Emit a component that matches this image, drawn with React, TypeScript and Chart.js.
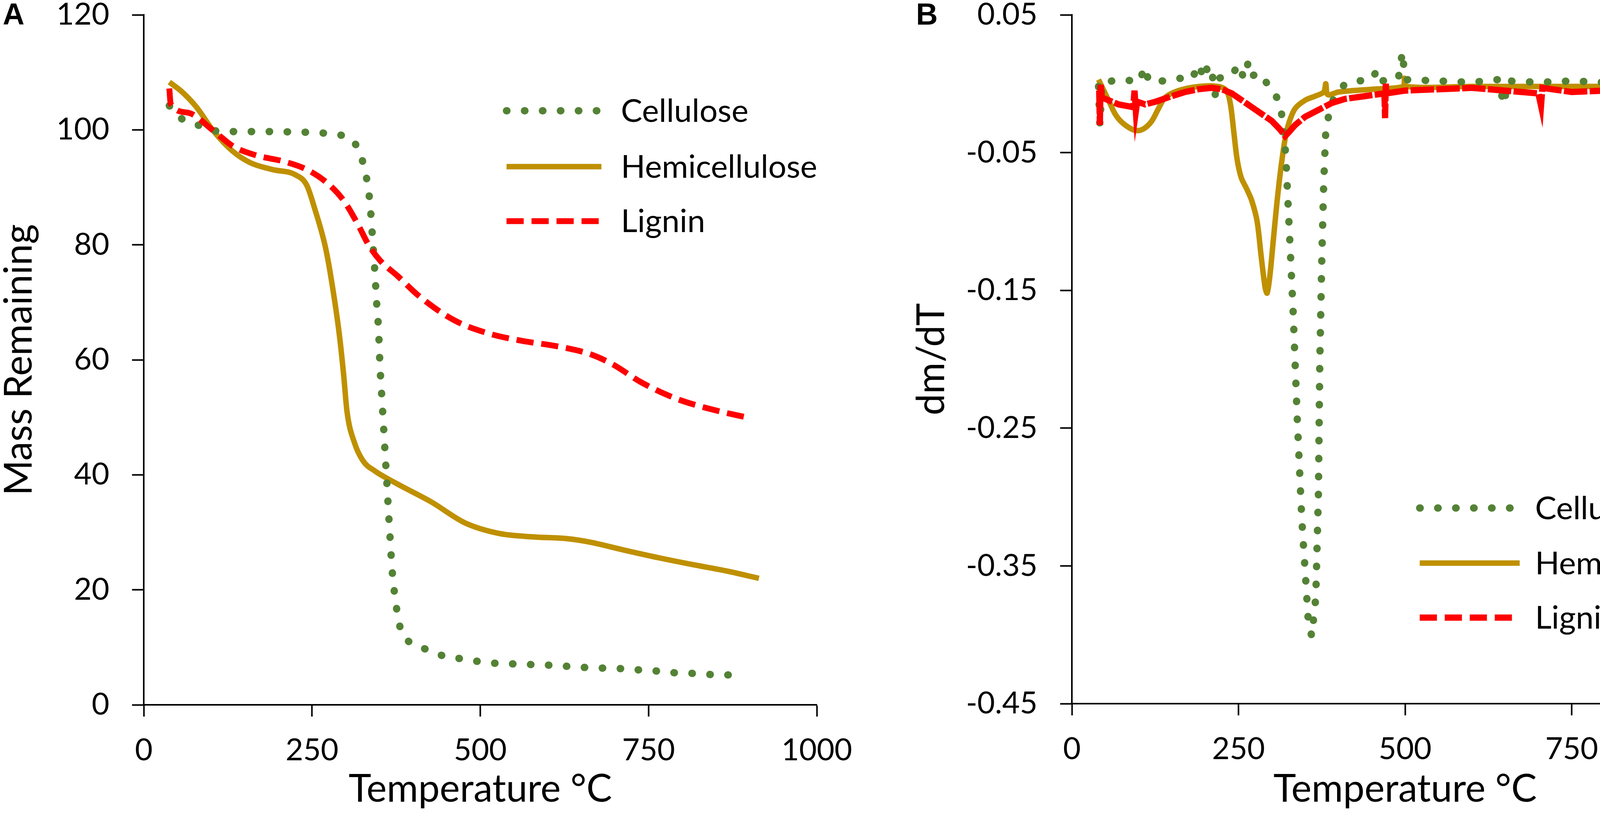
import { useEffect, useRef } from "react";
import { Chart, registerables } from "chart.js";

Chart.register(...registerables);

const FONT = "Lato, 'Open Sans', sans-serif";

// shared axis ticks
const tempTicks = [0, 250, 500, 750, 1000];
const massTicks = [0, 20, 40, 60, 80, 100, 120];
const rateTicks = [0.05, -0.05, -0.15, -0.25, -0.35, -0.45];

// panel A - mass remaining (%)
const celluloseMassT = [38, 53, 77, 103, 128, 180, 233, 259, 284, 309, 322, 329, 334, 337, 340, 343, 346, 349, 351, 354, 357, 360, 363, 366, 369, 372, 376, 382, 398, 424, 448, 473, 500, 526, 552, 577, 602, 629, 655, 680, 708, 733, 760, 785, 810, 837, 863, 888];
const celluloseMass = [104.2, 102.2, 101, 99.9, 99.7, 99.7, 99.6, 99.5, 99.2, 98.3, 95.7, 92.7, 89.5, 86, 81, 76, 70, 65, 59, 53, 47, 41, 35, 29, 23.5, 20, 16.5, 13, 10.7, 9.5, 8.4, 8.0, 7.5, 7.2, 7.1, 7.0, 6.9, 6.7, 6.5, 6.4, 6.3, 6.1, 5.9, 5.6, 5.5, 5.3, 5.2, 5.2];

const hemiMassT = [38, 56, 78, 103, 132, 158, 191, 225, 242, 254, 271, 284, 291, 297, 302, 313, 326, 343, 377, 427, 478, 528, 579, 629, 663, 714, 764, 815, 865, 914];
const hemiMass = [108.3, 106.7, 104, 99.9, 96.3, 94.3, 93.1, 92.2, 90.4, 86.3, 79, 70, 64, 57.4, 51, 45.6, 42.4, 40.7, 38.4, 35.3, 31.6, 29.8, 29.2, 28.9, 28.3, 26.9, 25.6, 24.4, 23.3, 22.0];

const ligninMassT = [38, 40, 65, 103, 132, 166, 208, 242, 271, 297, 318, 334, 351, 377, 410, 461, 512, 562, 612, 663, 697, 739, 790, 840, 899];
const ligninMass = [107.2, 104.5, 103, 99.9, 97.2, 95.6, 94.5, 93.1, 90.9, 87.7, 83.6, 80, 77.3, 74.6, 71, 66.9, 64.6, 63.3, 62.4, 61, 59.2, 56.1, 53.3, 51.5, 49.9];

// panel B - dm/dT
const celluloseRateT = [40, 42, 45, 60, 80, 100, 110, 115, 140, 160, 180, 190, 195, 200, 205, 210, 215, 220, 240, 250, 258, 265, 272, 280, 290, 300, 310, 316, 321, 332, 338, 345, 351, 355, 360, 366, 370, 372, 375, 378, 381, 385, 392, 400, 410, 430, 450, 458, 465, 490, 496, 500, 550, 600, 640, 648, 655, 700, 750, 800, 850, 878, 882, 900, 915];
const celluloseRate = [-0.002, -0.03, 0.0, 0.002, 0.003, 0.001, 0.012, 0.002, 0.002, 0.004, 0.003, 0.014, 0.008, 0.015, 0.006, 0.009, -0.008, 0.004, 0.006, 0.014, 0.004, 0.016, 0.006, 0.008, 0.002, -0.004, -0.012, -0.025, -0.052, -0.165, -0.241, -0.316, -0.361, -0.392, -0.401, -0.373, -0.297, -0.203, -0.128, -0.071, -0.034, -0.024, -0.012, -0.006, 0.0, 0.002, 0.003, 0.01, 0.002, 0.004, 0.023, 0.003, 0.002, 0.001, 0.003, -0.015, 0.002, 0.001, 0.002, 0.001, 0.003, 0.011, -0.008, 0.002, 0.0];

const hemiRateT = [40, 45, 55, 65, 75, 90, 100, 110, 120, 130, 140, 160, 190, 220, 232, 238, 243, 248, 254, 262, 270, 278, 284, 290, 293, 297, 302, 308, 314, 320, 326, 335, 350, 365, 378, 381, 384, 400, 450, 497, 499, 502, 600, 700, 800, 910];
const hemiRate = [0.003, -0.002, -0.012, -0.022, -0.028, -0.033, -0.034, -0.032, -0.027, -0.018, -0.01, -0.005, -0.002, -0.002, -0.005, -0.015, -0.035, -0.055, -0.068, -0.076, -0.085, -0.1, -0.125, -0.148, -0.152, -0.14, -0.115, -0.085, -0.06, -0.04, -0.028, -0.018, -0.012, -0.009, -0.006, 0.0, -0.008, -0.006, -0.004, -0.002, 0.004, -0.002, -0.002, -0.002, -0.002, -0.002];

const ligninRateT = [41, 42, 43, 45, 55, 70, 92, 94, 96, 98, 110, 126, 150, 170, 190, 210, 225, 240, 255, 270, 285, 300, 312, 320, 326, 335, 350, 370, 390, 410, 440, 469, 470, 471, 472, 500, 550, 600, 650, 700, 704, 706, 750, 800, 802, 803, 805, 850, 900, 915];
const ligninRate = [-0.005, -0.03, 0.0, -0.01, -0.012, -0.015, -0.017, -0.005, -0.02, -0.013, -0.015, -0.013, -0.009, -0.006, -0.004, -0.003, -0.004, -0.007, -0.012, -0.017, -0.022, -0.027, -0.033, -0.038, -0.035, -0.03, -0.024, -0.019, -0.014, -0.011, -0.009, -0.007, -0.025, 0.0, -0.007, -0.005, -0.004, -0.003, -0.005, -0.007, -0.016, -0.003, -0.006, -0.005, -0.018, 0.008, -0.005, -0.005, -0.004, -0.003];

const GREEN = "#548235";
const GOLD = "#BF9000";
const RED = "#FF0000";

const W = 2275;
const H = 2086;

const zip = (xs: number[], ys: number[]) => xs.map((x, i) => ({ x, y: ys[i] }));

// legend drawn inside the plot area, positions as fractions of the chart area
const insideLegend = {
  id: "insideLegend",
  afterDatasetsDraw(chart: any, _args: any, opts: any) {
    const { ctx, chartArea: a } = chart;
    const w = a.right - a.left;
    const h = a.bottom - a.top;
    ctx.save();
    chart.data.datasets.forEach((ds: any, i: number) => {
      const y = a.top + opts.rows[i] * h;
      ctx.beginPath();
      ctx.setLineDash(ds.legendDash || ds.borderDash || []);
      ctx.lineCap = ds.borderCapStyle || "butt";
      ctx.lineWidth = ds.borderWidth;
      ctx.strokeStyle = ds.borderColor;
      ctx.moveTo(a.left + opts.x1 * w, y);
      ctx.lineTo(a.left + opts.x2 * w, y);
      ctx.stroke();
      ctx.setLineDash([]);
      ctx.fillStyle = "#000";
      ctx.font = `${opts.size}px ${FONT}`;
      ctx.textBaseline = "middle";
      ctx.textAlign = "left";
      ctx.fillText(ds.label, a.left + opts.tx * w, y + 2);
    });
    ctx.restore();
  },
};

type Area = { left: number; right: number; top: number; bottom: number };

function axisStyle() {
  return {
    grid: { drawOnChartArea: false, drawTicks: true, tickLength: 30, tickWidth: 4, tickColor: "#000" },
    border: { display: true, color: "#000", width: 4 },
  };
}

function makeConfig(opts: {
  datasets: any[];
  yMin: number;
  yMax: number;
  yTicks: number[];
  yTitle: string;
  yFormat: (v: number) => string;
  yTitlePad: number;
  area: Area;
  legend: any;
}): any {
  const { area } = opts;
  return {
    type: "line",
    data: { datasets: opts.datasets },
    plugins: [insideLegend],
    options: {
      responsive: false,
      animation: false,
      devicePixelRatio: 1,
      layout: { padding: { top: area.top, right: W - area.right, bottom: 0, left: 0 } },
      elements: { point: { radius: 0 } },
      scales: {
        x: {
          type: "linear",
          min: 0,
          max: 1000,
          afterBuildTicks: (s: any) => {
            s.ticks = tempTicks.map((v) => ({ value: v }));
          },
          afterFit: (s: any) => {
            s.height = H - area.bottom;
            s.paddingLeft = 0;
            s.paddingRight = 0;
          },
          ticks: {
            color: "#000",
            font: { family: FONT, size: 78, lineHeight: 1 },
            padding: 48,
            maxRotation: 0,
            minRotation: 0,
            autoSkip: false,
            callback: (v: any) => String(v),
          },
          title: {
            display: true,
            text: "Temperature °C",
            color: "#000",
            font: { family: FONT, size: 98, lineHeight: 1 },
            padding: { top: 0, bottom: 17 },
          },
          ...axisStyle(),
        },
        y: {
          type: "linear",
          min: opts.yMin,
          max: opts.yMax,
          afterBuildTicks: (s: any) => {
            s.ticks = opts.yTicks.map((v) => ({ value: v }));
          },
          afterFit: (s: any) => {
            s.width = area.left;
            s.paddingTop = 0;
            s.paddingBottom = 0;
          },
          ticks: {
            color: "#000",
            font: { family: FONT, size: 78, lineHeight: 1 },
            padding: 58,
            callback: (v: any) => opts.yFormat(Number(v)),
          },
          title: {
            display: true,
            text: opts.yTitle,
            color: "#000",
            font: { family: FONT, size: 98, lineHeight: 1 },
            padding: { top: opts.yTitlePad, bottom: 0 },
          },
          ...axisStyle(),
        },
      },
      plugins: {
        legend: { display: false },
        tooltip: { enabled: false },
        insideLegend: opts.legend,
      },
    },
  };
}

function dotted(label: string, data: any[], order: number) {
  return {
    label,
    data,
    borderColor: GREEN,
    borderWidth: 19,
    borderDash: [1, 45],
    borderCapStyle: "round",
    order,
  };
}

const massConfig = () =>
  makeConfig({
    datasets: [
      { ...dotted("Cellulose", zip(celluloseMassT, celluloseMass), 1), cubicInterpolationMode: "monotone" },
      {
        label: "Hemicellulose",
        data: zip(hemiMassT, hemiMass),
        borderColor: GOLD,
        borderWidth: 14,
        cubicInterpolationMode: "monotone",
        order: 2,
      },
      {
        label: "Lignin",
        data: zip(ligninMassT, ligninMass),
        borderColor: RED,
        borderWidth: 15,
        borderDash: [44, 20],
        cubicInterpolationMode: "monotone",
        order: 0,
      },
    ],
    yMin: 0,
    yMax: 120,
    yTicks: massTicks,
    yTitle: "Mass Remaining",
    yFormat: (v) => String(v),
    yTitlePad: 0,
    area: { left: 368, right: 2091, top: 38, bottom: 1804 },
    legend: { x1: 0.539, x2: 0.68, tx: 0.709, rows: [0.139, 0.22, 0.299], size: 82 },
  });

const rateConfig = () =>
  makeConfig({
    datasets: [
      dotted("Cellulose", zip(celluloseRateT, celluloseRate), 1),
      {
        label: "Hemicellulose",
        data: zip(hemiRateT, hemiRate),
        borderColor: GOLD,
        borderWidth: 14,
        tension: 0.3,
        order: 2,
      },
      {
        label: "Lignin",
        data: zip(ligninRateT, ligninRate),
        borderColor: RED,
        borderWidth: 16,
        borderDash: [60, 6],
        legendDash: [44, 20],
        order: 0,
      },
    ],
    yMin: -0.45,
    yMax: 0.05,
    yTicks: rateTicks,
    yTitle: "dm/dT",
    yFormat: (v) => v.toFixed(2),
    yTitlePad: 61,
    area: { left: 469, right: 2175, top: 38, bottom: 1801 },
    legend: { x1: 0.522, x2: 0.672, tx: 0.695, rows: [0.716, 0.796, 0.875], size: 82 },
  });

function Panel({ left, make }: { left: number; make: () => any }) {
  const ref = useRef<HTMLCanvasElement>(null);
  useEffect(() => {
    if (!ref.current) return;
    const chart = new Chart(ref.current, make());
    return () => chart.destroy();
  }, []);
  return (
    <div style={{ position: "absolute", left, top: 0, width: W, height: H }}>
      <canvas ref={ref} width={W} height={H} style={{ display: "block" }} />
    </div>
  );
}

const letterStyle = {
  position: "absolute" as const,
  top: -2,
  fontFamily: "'Liberation Sans', Arial, sans-serif",
  fontWeight: 700,
  fontSize: 77,
  lineHeight: 1,
  color: "#000",
};

export default function App() {
  return (
    <div style={{ position: "absolute", left: 0, top: 0, width: 4550, height: 2086, background: "#fff", overflow: "hidden" }}>
      <Panel left={0} make={massConfig} />
      <Panel left={2275} make={rateConfig} />
      <div style={{ ...letterStyle, left: 7 }}>A</div>
      <div style={{ ...letterStyle, left: 2345 }}>B</div>
    </div>
  );
}
